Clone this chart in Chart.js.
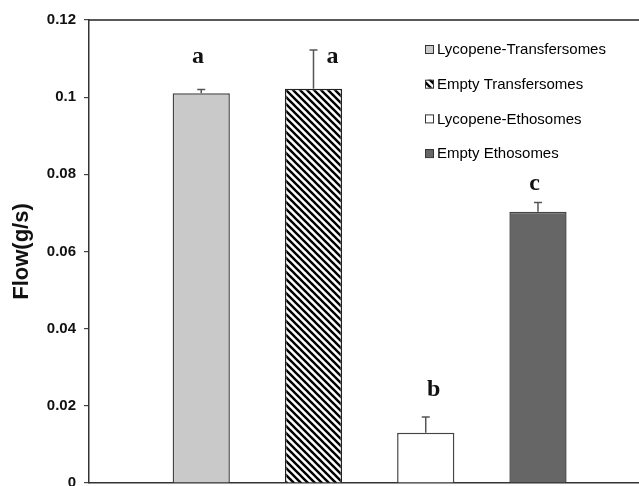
<!DOCTYPE html>
<html>
<head>
<meta charset="utf-8">
<script src="https://cdn.jsdelivr.net/npm/chart.js@4.4.0/dist/chart.umd.min.js"></script>
<style>
    html, body { margin: 0; padding: 0; background: #fff; }
</style>
</head>
<body>
<canvas id="flowChart" width="639" height="486"></canvas>
<script>
const categories = ['Lycopene-Transfersomes', 'Empty Transfersomes', 'Lycopene-Ethosomes', 'Empty Ethosomes'];
const flowValues = [0.101, 0.1022, 0.013, 0.0703];
const flowErrors = [0.001, 0.010, 0.0041, 0.0024];
const groupLetters = ['a', 'a', 'b', 'c'];
const letterY = [0.1104, 0.1104, 0.0241, 0.0775];
const letterX = [0.97, 2.17, 3.07, 3.97];
const yTicks = [0, 0.02, 0.04, 0.06, 0.08, 0.1, 0.12];

// diagonal hatch for the second bar
function makeHatch() {
    const s = 7;
    const c = document.createElement('canvas');
    c.width = s;
    c.height = s;
    const g = c.getContext('2d');
    g.fillStyle = '#fff';
    g.fillRect(0, 0, s, s);
    g.strokeStyle = '#000';
    g.lineWidth = 2.4;
    [-s, 0, s].forEach(k => {
        g.beginPath();
        g.moveTo(-1, -1 + k);
        g.lineTo(s + 1, s + 1 + k);
        g.stroke();
    });
    return g.createPattern(c, 'repeat');
}

const fills = ['#c9c9c9', makeHatch(), '#ffffff', '#666666'];
const borders = ['#444', '#222', '#444', '#444'];

const errorBars = {
    id: 'errorBars',
    afterDatasetsDraw(chart) {
        const { ctx, scales: { x, y } } = chart;
        ctx.save();
        ctx.strokeStyle = '#555';
        ctx.lineWidth = 1.5;
        flowValues.forEach((v, i) => {
            const bar = chart.getDatasetMeta(i).data[0];
            const top = y.getPixelForValue(v + flowErrors[i]);
            ctx.beginPath();
            ctx.moveTo(bar.x, y.getPixelForValue(v));
            ctx.lineTo(bar.x, top);
            ctx.moveTo(bar.x - 4, top);
            ctx.lineTo(bar.x + 4, top);
            ctx.stroke();
        });
        // significance letters
        ctx.fillStyle = '#111';
        ctx.font = 'bold 24px "Liberation Serif"';
        ctx.textAlign = 'center';
        ctx.textBaseline = 'middle';
        groupLetters.forEach((t, i) => {
            ctx.fillText(t, x.getPixelForValue(letterX[i]), y.getPixelForValue(letterY[i]));
        });
        ctx.restore();
    }
};

const frameAndLegend = {
    id: 'frameAndLegend',
    afterDraw(chart) {
        const { ctx, chartArea } = chart;
        ctx.save();
        // top frame line
        ctx.strokeStyle = '#222';
        ctx.lineWidth = 1.5;
        ctx.beginPath();
        ctx.moveTo(chartArea.left, chartArea.top);
        ctx.lineTo(chartArea.right, chartArea.top);
        ctx.stroke();

        const left = chartArea.right - 214;
        const top = chartArea.top + 29;
        ctx.font = '15px "Liberation Sans"';
        ctx.textBaseline = 'middle';
        chart.data.datasets.forEach((ds, i) => {
            const cy = top + i * 34.7;
            ctx.fillStyle = ds.backgroundColor;
            ctx.fillRect(left, cy - 4, 8, 8);
            ctx.strokeStyle = '#333';
            ctx.lineWidth = 1;
            ctx.strokeRect(left + 0.5, cy - 3.5, 8, 8);
            ctx.fillStyle = '#000';
            ctx.fillText(ds.label, left + 12, cy + 1);
        });
        ctx.restore();
    }
};

const ctx = document.getElementById('flowChart').getContext('2d');
new Chart(ctx, {
    type: 'bar',
    data: {
        datasets: categories.map((name, i) => ({
            label: name,
            data: [{ x: i + 1, y: flowValues[i] }],
            backgroundColor: fills[i],
            borderColor: borders[i],
            borderWidth: 1.5,
            grouped: false,
            categoryPercentage: 1,
            barPercentage: 0.51
        }))
    },
    options: {
        responsive: false,
        animation: false,
        devicePixelRatio: 1,
        layout: { padding: { top: 20, bottom: 3, left: 0, right: 0 } },
        plugins: {
            legend: { display: false },
            tooltip: { enabled: false }
        },
        scales: {
            x: {
                type: 'linear',
                min: 0,
                max: 4.9,
                offset: false,
                afterBuildTicks: s => { s.ticks = categories.map((_, i) => ({ value: i + 1 })); },
                ticks: { display: false },
                grid: { display: false },
                border: { color: '#333', width: 1.5 },
                afterFit: s => { s.height = 0; }
            },
            y: {
                min: 0,
                max: 0.12,
                afterBuildTicks: s => { s.ticks = yTicks.map(v => ({ value: v })); },
                ticks: {
                    color: '#111',
                    padding: 8,
                    font: { family: 'Liberation Sans', size: 15, weight: 'bold' },
                    callback: v => String(+v.toFixed(2))
                },
                grid: { display: true, drawOnChartArea: false, drawTicks: true, tickLength: 5, color: '#444', lineWidth: 1.2 },
                border: { color: '#333', width: 1.5 },
                title: {
                    display: true,
                    text: 'Flow(g/s)',
                    color: '#111',
                    padding: { top: 9, bottom: 0 },
                    font: { family: 'Liberation Sans', size: 22, weight: 'bold' }
                },
                afterFit: s => {
                    s.width = 89;
                    s.paddingTop = 0;
                    s.paddingBottom = 0;
                }
            }
        }
    },
    plugins: [errorBars, frameAndLegend]
});
</script>
</body>
</html>
